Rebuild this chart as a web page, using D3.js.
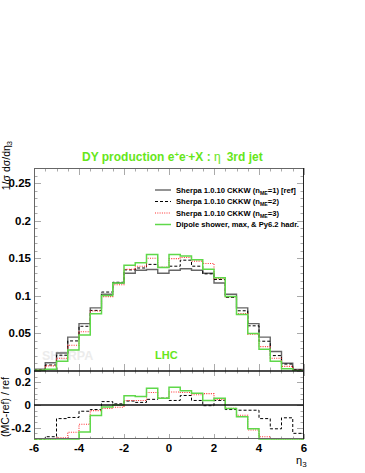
<!DOCTYPE html>
<html><head><meta charset="utf-8">
<script src="https://cdn.jsdelivr.net/npm/d3@7"></script>
<style>body{margin:0;background:#fff} svg{display:block} text{font-family:"Liberation Sans",Arial,Helvetica,sans-serif}</style>
</head><body><svg id="c" width="365" height="473"></svg>
<script>
// ---- data ----
const binLow = [-6,-5.5,-5,-4.5,-4,-3.5,-3,-2.5,-2,-1.5,-1,-0.5,0,0.5,1,1.5,2,2.5,3,3.5,4,4.5,5,5.5];
const binWidth = 0.5;
const refVals    = [0.0025,0.011,0.024,0.045,0.063,0.084,0.102,0.117,0.130,0.134,0.135,0.130,0.134,0.136,0.134,0.130,0.117,0.102,0.084,0.063,0.045,0.026,0.0104,0.002];
const nme2Vals   = [0.0015,0.008,0.021,0.040,0.0595,0.0806,0.105,0.118,0.1345,0.137,0.1418,0.1378,0.1394,0.1474,0.1394,0.1292,0.1217,0.0979,0.0801,0.0601,0.0396,0.0205,0.0092,0.0015];
const nme3Vals   = [0.0013,0.0068,0.017,0.0342,0.0523,0.0798,0.0989,0.1147,0.1352,0.1394,0.1499,0.1378,0.1494,0.151,0.1461,0.143,0.1229,0.0989,0.0764,0.0491,0.0324,0.0169,0.0062,0.001];
const dipoleVals = [0.001,0.0022,0.013,0.028,0.048,0.0762,0.1003,0.117,0.1405,0.144,0.155,0.1378,0.155,0.153,0.148,0.1352,0.124,0.099,0.0753,0.0498,0.0288,0.013,0.0031,0.0002];
const nme2Ratio   = [-0.4,-0.28,-0.12,-0.11,-0.055,-0.04,0.03,0.01,0.035,0.023,0.05,0.06,0.04,0.084,0.04,-0.006,0.04,-0.04,-0.046,-0.046,-0.12,-0.21,-0.113,-0.25];
const nme3Ratio   = [-0.5,-0.4,-0.29,-0.24,-0.17,-0.05,-0.03,-0.02,0.04,0.04,0.11,0.06,0.115,0.11,0.09,0.1,0.05,-0.03,-0.09,-0.22,-0.28,-0.35,-0.4,-0.5];
const dipoleRatio = [-0.6,-0.8,-0.46,-0.38,-0.238,-0.093,-0.017,0.0,0.081,0.075,0.148,0.06,0.157,0.125,0.104,0.04,0.06,-0.03,-0.104,-0.21,-0.36,-0.5,-0.7,-0.9];
const xTicks = [-6,-4,-2,0,2,4,6];
const xTickLabels = ["-6","-4","-2","0","2","4","6"];
const yTicks = [0,0.05,0.1,0.15,0.2,0.25];
const yTickLabels = ["0","0.05","0.1","0.15","0.2","0.25"];
const rTicks = [-0.2,0,0.2];
const rTickLabels = ["-0.2","0","0.2"];
const legendNames = ["Sherpa 1.0.10 CKKW (n","Sherpa 1.0.10 CKKW (n","Sherpa 1.0.10 CKKW (n","Dipole shower, max, & Py6.2 hadr."];
const legendSubs  = ["ME","ME","ME",""];
const legendTails = ["=1) [ref]","=2)","=3)",""];

// ---- layout ----
const L=34, R=304, T=168, MB=371, RB=439;
const svg = d3.select("#c");
const x = d3.scaleLinear([-6,6],[L,R]);
const y = d3.scaleLinear([0,0.27],[MB,T]);
const r = d3.scaleLinear([-0.3,0.3],[RB,MB]).clamp(true);
const green = "#5fd84a", titleGreen = "#66e61a";

const styles = [
  {stroke:"#666", w:1.4, dash:null},
  {stroke:"#000", w:1.0, dash:"3,2"},
  {stroke:"#ff3030", w:1.1, dash:"1,1.3"},
  {stroke:green, w:1.5, dash:null}
];

svg.append("defs").append("clipPath").attr("id","mc").append("rect")
  .attr("x",L).attr("y",T).attr("width",R-L).attr("height",MB-T);

// ticks
const tickCol = "#aaa";
function minorRange(a,b,s){const o=[];for(let v=a;v<=b+1e-9;v+=s)o.push(+v.toFixed(4));return o;}
const gt = svg.append("g").attr("stroke",tickCol).attr("stroke-width",1);
minorRange(-6,6,0.5).forEach(v=>{
  const major = xTicks.includes(v);
  const len = major?7:3.5;
  const px = Math.round(x(v))+0.5;
  gt.append("line").attr("x1",px).attr("x2",px).attr("y1",T).attr("y2",T+len);
  gt.append("line").attr("x1",px).attr("x2",px).attr("y1",MB).attr("y2",MB-len);
  gt.append("line").attr("x1",px).attr("x2",px).attr("y1",MB).attr("y2",MB+(major?5:2.5));
  gt.append("line").attr("x1",px).attr("x2",px).attr("y1",RB).attr("y2",RB-(major?5:2.5));
});
minorRange(0,0.27,0.01).forEach(v=>{
  const major = yTicks.some(t=>Math.abs(t-v)<1e-6);
  const len = major?7:3.5;
  const py = Math.round(y(v))+0.5;
  gt.append("line").attr("x1",L).attr("x2",L+len).attr("y1",py).attr("y2",py);
  gt.append("line").attr("x1",R).attr("x2",R-len).attr("y1",py).attr("y2",py);
});
minorRange(-0.3,0.3,0.05).forEach(v=>{
  const major = rTicks.some(t=>Math.abs(t-v)<1e-6);
  const len = major?7:3.5;
  const py = Math.round(r(v))+0.5;
  gt.append("line").attr("x1",L).attr("x2",L+len).attr("y1",py).attr("y2",py);
  gt.append("line").attr("x1",R).attr("x2",R-len).attr("y1",py).attr("y2",py);
});

// watermark + LHC
svg.append("text").attr("x",42).attr("y",360).attr("font-size",12.5).attr("font-weight","bold")
  .attr("fill","#ececec").text("SHERPA");
svg.append("text").attr("x",155).attr("y",359).attr("font-size",11).attr("font-weight","bold")
  .attr("fill",titleGreen).text("LHC");

// histograms
function stepPts(vals){const p=[];vals.forEach((v,i)=>{p.push([binLow[i],v]);p.push([binLow[i]+binWidth,v]);});return p;}
const mainSeries=[refVals,nme2Vals,nme3Vals,dipoleVals];
const gm = svg.append("g").attr("clip-path","url(#mc)");
mainSeries.forEach((vals,i)=>{
  const st=styles[i];
  gm.append("path").attr("d",d3.line().x(d=>x(d[0])).y(d=>y(d[1]))(stepPts(vals)))
    .attr("fill","none").attr("stroke",st.stroke).attr("stroke-width",st.w)
    .attr("stroke-dasharray",st.dash);
});
const ratioSeries=[null,nme2Ratio,nme3Ratio,dipoleRatio];
const gr = svg.append("g");
ratioSeries.forEach((vals,i)=>{
  if(!vals) return;
  const st=styles[i];
  gr.append("path").attr("d",d3.line().x(d=>x(d[0])).y(d=>r(d[1]))(stepPts(vals)))
    .attr("fill","none").attr("stroke",st.stroke).attr("stroke-width",st.w)
    .attr("stroke-dasharray",st.dash);
});

// frame
const fr = svg.append("g").attr("fill","none");
fr.append("rect").attr("x",L+0.5).attr("y",T+0.5).attr("width",R-L-1).attr("height",RB-T-1)
  .attr("stroke","#666").attr("stroke-width",1);
fr.append("line").attr("x1",L).attr("x2",R).attr("y1",y(0)).attr("y2",y(0)).attr("stroke","#111").attr("stroke-width",1.3);
fr.append("line").attr("x1",L).attr("x2",R).attr("y1",r(0)).attr("y2",r(0)).attr("stroke","#111").attr("stroke-width",1.3);
fr.append("line").attr("x1",R-0.5).attr("x2",R-0.5).attr("y1",T).attr("y2",RB).attr("stroke","#222").attr("stroke-width",1);

// tick labels
const tl = svg.append("g").attr("font-size",11.5).attr("font-weight","bold").attr("fill","#000");
yTicks.forEach((v,i)=>tl.append("text").attr("x",31).attr("y",y(v)+4).attr("text-anchor","end").text(yTickLabels[i]));
rTicks.forEach((v,i)=>tl.append("text").attr("x",31).attr("y",r(v)+4).attr("text-anchor","end").text(rTickLabels[i]));
xTicks.forEach((v,i)=>tl.append("text").attr("x",x(v)).attr("y",452).attr("text-anchor","middle").text(xTickLabels[i]));

// axis titles
const xt = svg.append("text").attr("x",296).attr("y",464).attr("font-size",11);
xt.append("tspan").text("η");
xt.append("tspan").attr("font-size",8).attr("dy",3).text("3");
const yt = svg.append("text").attr("transform","translate(9.5,141) rotate(-90)").attr("text-anchor","end").attr("font-size",10.5);
yt.append("tspan").text("1/σ dσ/dη");
yt.append("tspan").attr("font-size",7.5).attr("dy",2.5).text("3");
svg.append("text").attr("transform","translate(9,377) rotate(-90)").attr("text-anchor","end").attr("font-size",10.5)
  .text("(MC-ref) / ref");

// title
const tt = svg.append("text").attr("x",82).attr("y",161).attr("font-size",12).attr("font-weight","bold").attr("fill",titleGreen);
tt.append("tspan").text("DY production e");
tt.append("tspan").attr("font-size",7.8).attr("dy",-4.5).text("+");
tt.append("tspan").attr("dy",4.5).text("e");
tt.append("tspan").attr("font-size",7.8).attr("dy",-4.5).text("-");
tt.append("tspan").attr("dy",4.5).text("+X : ");
tt.append("tspan").attr("font-weight","normal").text("η");
tt.append("tspan").attr("dx",6).text("3rd jet");

// legend
const lg = svg.append("g");
const rowsY=[190,201.5,213,224.5];
legendNames.forEach((nm,i)=>{
  const st=styles[i], yy=rowsY[i];
  lg.append("line").attr("x1",155).attr("x2",171).attr("y1",yy).attr("y2",yy)
    .attr("stroke",st.stroke).attr("stroke-width",st.w).attr("stroke-dasharray",st.dash);
  const t=lg.append("text").attr("x",176).attr("y",yy+2.8).attr("font-size",7.6).attr("font-weight","bold");
  t.append("tspan").text(nm);
  if(legendSubs[i]){
    t.append("tspan").attr("font-size",5.2).attr("dy",1.8).text(legendSubs[i]);
    t.append("tspan").attr("dy",-1.8).text(legendTails[i]);
  }
});
</script></body></html>
